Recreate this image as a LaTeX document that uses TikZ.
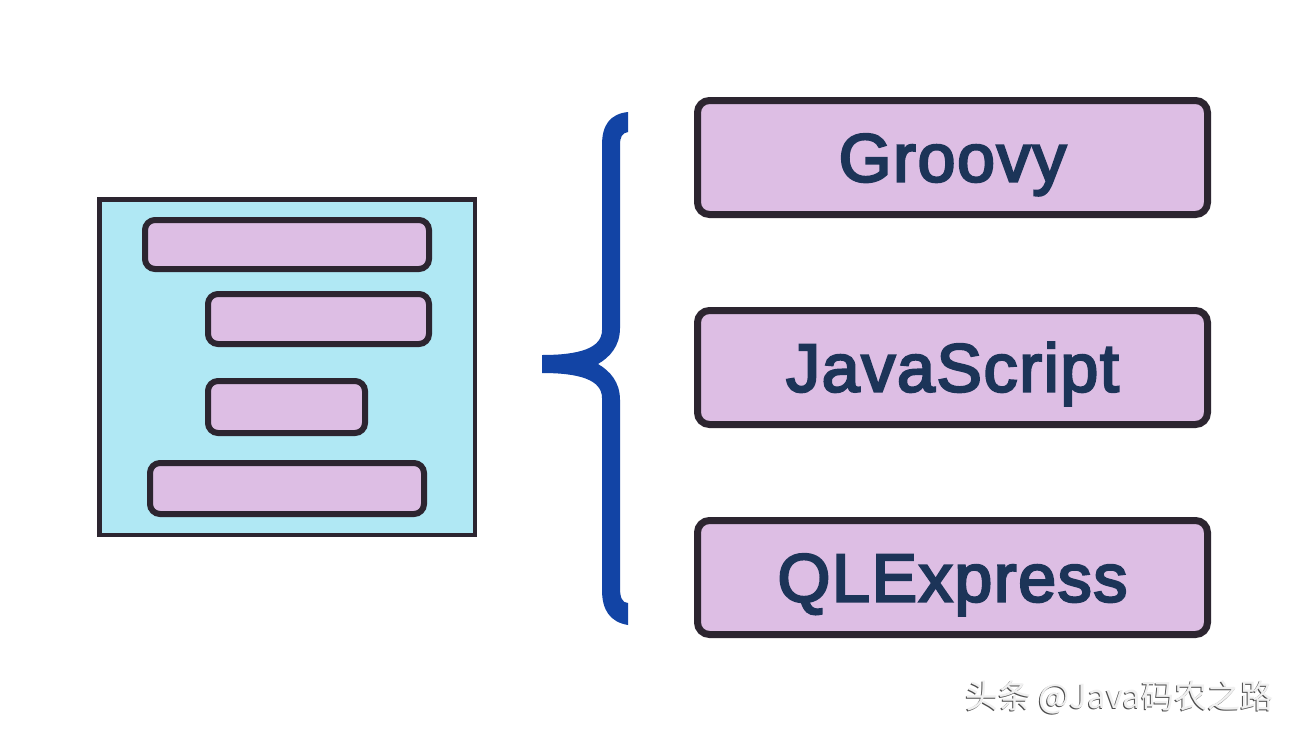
\documentclass[tikz,border=0pt]{standalone}
\usepackage{fontspec}
\setmainfont{Liberation Sans}
\newfontfamily\langfont[FakeBold=3.5,LetterSpace=2.5]{Liberation Sans}
\newfontfamily\cjkfont{Noto Sans CJK SC}
\definecolor{boxline}{RGB}{44,37,48}
\definecolor{lav}{RGB}{221,190,228}
\definecolor{cyanbg}{RGB}{176,232,244}
\definecolor{navy}{RGB}{28,52,88}
\definecolor{braceblue}{RGB}{18,68,165}
\tikzset{
  bar/.style={draw=boxline, fill=lav, line width=6pt, rounded corners=10pt, inner sep=0pt},
  langbox/.style={draw=boxline, fill=lav, line width=7pt, rounded corners=12pt, inner sep=0pt,
    minimum width=510pt, minimum height=114pt, text=navy,
    font=\langfont\fontsize{68}{68}\selectfont, text height=48pt, text depth=0pt},
  panel/.style={draw=boxline, fill=cyanbg, line width=4.5pt, inner sep=0pt},
  wmark/.style={anchor=base west, inner sep=0pt, font=\cjkfont\fontsize{33}{33}\selectfont}
}
\begin{document}
\begin{tikzpicture}[x=1pt,y=-1pt]
\useasboundingbox (0,0) rectangle (1308,736);
\fill[white] (0,0) rectangle (1308,736);
% left panel
\node[panel, minimum width=375.5pt, minimum height=335.5pt] (panel) at (287,367) {};
\node[bar, minimum width=284pt, minimum height=49pt] (bar1) at (287,244.5) {};
\node[bar, minimum width=221pt, minimum height=50pt] (bar2) at (318.5,319) {};
\node[bar, minimum width=157pt, minimum height=52pt] (bar3) at (286.5,407) {};
\node[bar, minimum width=274pt, minimum height=51pt] (bar4) at (287,488.5) {};
% brace
\fill[braceblue] (628,112) .. controls (610,114) and (602,125) .. (602,145)
  -- (602,330) .. controls (602,348) and (580,355) .. (542,355)
  -- (542,373) .. controls (580,373) and (602,380) .. (602,398)
  -- (602,590) .. controls (602,610) and (610,622) .. (628,625)
  -- (628,603) .. controls (622,603) and (620,597) .. (620,588)
  -- (620,400) .. controls (620,382) and (610,371) .. (598,364)
  .. controls (610,357) and (620,346) .. (620,328)
  -- (620,145) .. controls (620,137) and (622,133) .. (628,132) -- cycle;
% language boxes
\node[langbox] (groovy) at (952.5,157.5) {Groovy};
\node[langbox] (js) at (952.5,367.5) {JavaScript};
\node[langbox] (ql) at (952.5,577.5) {QLExpress};
% watermark
\node[wmark, text=black!70] (wmshadow) at (964,709) {头条 @Java码农之路};
\node[wmark, text=black!6] (wm) at (965,708) {头条 @Java码农之路};
\end{tikzpicture}
\end{document}
